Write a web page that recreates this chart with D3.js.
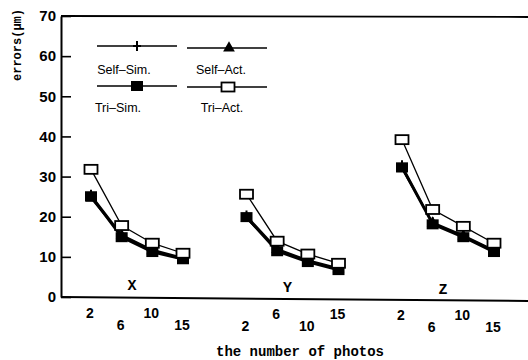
<!DOCTYPE html>
<html lang="en">
<head>
  <meta charset="UTF-8">
  <title>errors vs number of photos</title>
  <script src="https://d3js.org/d3.v7.min.js"></script>
  <style>
    body {
      margin: 0;
      background: #fff;
    }
    svg {
      display: block;
    }
    .tick-label {
      font-family: "Liberation Sans", Arial, sans-serif;
      font-weight: bold;
      font-size: 15px;
    }
    .mono {
      font-family: "Liberation Mono", "DejaVu Sans Mono", monospace;
      font-weight: bold;
    }
    .legend-text {
      font-family: "Liberation Sans", Arial, sans-serif;
      font-size: 12.5px;
    }
  </style>
</head>
<body>
  <svg id="chart" width="528" height="360"></svg>

  <script>
    const groups = ["X", "Y", "Z"];
    const photos = [2, 6, 10, 15];
    const yTicks = [0, 10, 20, 30, 40, 50, 60, 70];

    // one row per group (X, Y, Z), one value per number of photos
    const selfSim = [[25.5, 15.5, 11.8, 9.8], [20.3, 12.0, 9.2, 7.2], [32.8, 18.6, 15.4, 11.7]];
    const selfAct = [[24.6, 15.3, 11.5, 9.6], [19.6, 11.8, 9.0, 7.0], [31.9, 18.4, 15.2, 11.5]];
    const triSim  = [[25.1, 14.9, 11.2, 9.4], [19.9, 11.4, 8.7, 6.7], [32.3, 18.1, 14.9, 11.2]];
    const triAct  = [[31.8, 17.8, 13.4, 10.9], [25.6, 13.9, 10.7, 8.4], [39.2, 21.8, 17.6, 13.4]];

    // tick labels sit on two staggered rows (0 = upper, 1 = lower)
    const labelRow = [[0, 1, 0, 1], [1, 0, 1, 0], [0, 1, 0, 1]];

    const svg = d3.select("#chart");

    const plotLeft = 61, plotBottom = 297, plotTop = 16, plotRight = 528;

    const y = d3.scaleLinear().domain([0, 70]).range([plotBottom, plotTop]);
    const xGroup = d3.scaleBand().domain(groups).range([91, 91 + 155.5 * 3]).padding(0);
    const xIn = d3.scalePoint().domain(photos).range([0, 92]);
    const xPos = (g, p) => xGroup(g) + xIn(p);

    // frame
    svg.append("line")
      .attr("x1", plotLeft).attr("x2", plotRight)
      .attr("y1", plotTop).attr("y2", plotTop + 1)
      .attr("stroke", "#000").attr("stroke-width", 1.8);
    svg.append("line")
      .attr("x1", plotLeft).attr("x2", plotRight)
      .attr("y1", plotBottom).attr("y2", plotBottom + 4)
      .attr("stroke", "#000").attr("stroke-width", 2);

    // y axis, ticks pointing inward
    const yAxis = d3.axisLeft(y)
      .tickValues(yTicks)
      .tickSizeInner(-10)
      .tickSizeOuter(0)
      .tickPadding(5);
    const gy = svg.append("g")
      .attr("transform", `translate(${plotLeft},0)`)
      .call(yAxis);
    gy.select(".domain").attr("stroke-width", 2);
    gy.selectAll(".tick line").attr("stroke-width", 1.6);
    gy.selectAll(".tick text").attr("class", "tick-label").attr("fill", "#000");

    // y title
    svg.append("text")
      .attr("class", "mono")
      .attr("transform", "translate(21,45) rotate(-90)")
      .attr("text-anchor", "middle")
      .style("font-size", "12px")
      .text("errors(μm)");

    // x tick labels and group names
    groups.forEach((g, gi) => {
      svg.selectAll(null)
        .data(photos)
        .enter().append("text")
        .attr("class", "tick-label")
        .style("font-size", "14px")
        .attr("x", p => xPos(g, p) - 1)
        .attr("y", (p, i) => (labelRow[gi][i] === 0 ? 318 : 330) + gi)
        .attr("text-anchor", "middle")
        .text(p => p);

      svg.append("text")
        .attr("class", "mono")
        .style("font-size", "15px")
        .attr("x", xGroup(g) + 41)
        .attr("y", 290 + gi * 2)
        .attr("text-anchor", "middle")
        .text(g);
    });

    // x title
    svg.append("text")
      .attr("class", "mono")
      .style("font-size", "14px")
      .attr("x", 300)
      .attr("y", 356)
      .attr("text-anchor", "middle")
      .text("the number of photos");

    const series = [
      { name: "Self–Sim.", values: selfSim, width: 1.6, marker: "plus" },
      { name: "Self–Act.", values: selfAct, width: 1.6, marker: "triangle" },
      { name: "Tri–Sim.", values: triSim, width: 2.6, marker: "filled" },
      { name: "Tri–Act.", values: triAct, width: 1.3, marker: "open" }
    ];

    const line = d3.line()
      .x(d => xPos(d.g, d.p))
      .y(d => y(d.v));

    function drawMarker(sel, type) {
      if (type === "plus") {
        sel.append("path")
          .attr("d", "M-4,0H4M0,-5V5")
          .attr("stroke", "#000").attr("stroke-width", 2).attr("fill", "none");
      } else if (type === "triangle") {
        sel.append("path")
          .attr("d", d3.symbol(d3.symbolTriangle, 60)())
          .attr("fill", "#000");
      } else if (type === "filled") {
        sel.append("rect")
          .attr("x", -6).attr("y", -5).attr("width", 12).attr("height", 10)
          .attr("fill", "#000");
      } else {
        sel.append("rect")
          .attr("x", -6.5).attr("y", -4.5).attr("width", 13).attr("height", 9)
          .attr("fill", "#fff").attr("stroke", "#000").attr("stroke-width", 1.8);
      }
    }

    // lines first
    series.forEach(s => {
      groups.forEach((g, gi) => {
        const pts = photos.map((p, i) => ({ g: g, p: p, v: s.values[gi][i] }));
        svg.append("path")
          .datum(pts)
          .attr("d", line)
          .attr("fill", "none")
          .attr("stroke", "#000")
          .attr("stroke-width", s.width);
      });
    });

    // markers on top
    series.forEach(s => {
      groups.forEach((g, gi) => {
        const pts = photos.map((p, i) => ({ g: g, p: p, v: s.values[gi][i] }));
        svg.selectAll(null)
          .data(pts)
          .enter().append("g")
          .attr("transform", d => `translate(${xPos(d.g, d.p)},${y(d.v)})`)
          .each(function () { drawMarker(d3.select(this), s.marker); });
      });
    });

    // legend
    const legendPos = [
      { x1: 97, x2: 177, ly: 46, mx: 137, tx: 124, ty: 74 },
      { x1: 187, x2: 267, ly: 48, mx: 229, tx: 221, ty: 74 },
      { x1: 97, x2: 177, ly: 86, mx: 137, tx: 118, ty: 112 },
      { x1: 187, x2: 267, ly: 87, mx: 228, tx: 222, ty: 112 }
    ];
    series.forEach((s, i) => {
      const p = legendPos[i];
      svg.append("line")
        .attr("x1", p.x1).attr("x2", p.x2)
        .attr("y1", p.ly).attr("y2", p.ly)
        .attr("stroke", "#000").attr("stroke-width", 1.6);
      const m = svg.append("g").attr("transform", `translate(${p.mx},${p.ly})`);
      drawMarker(m, s.marker);
      svg.append("text")
        .attr("class", "legend-text")
        .attr("x", p.tx).attr("y", p.ty)
        .attr("text-anchor", "middle")
        .text(s.name);
    });
  </script>
</body>
</html>
